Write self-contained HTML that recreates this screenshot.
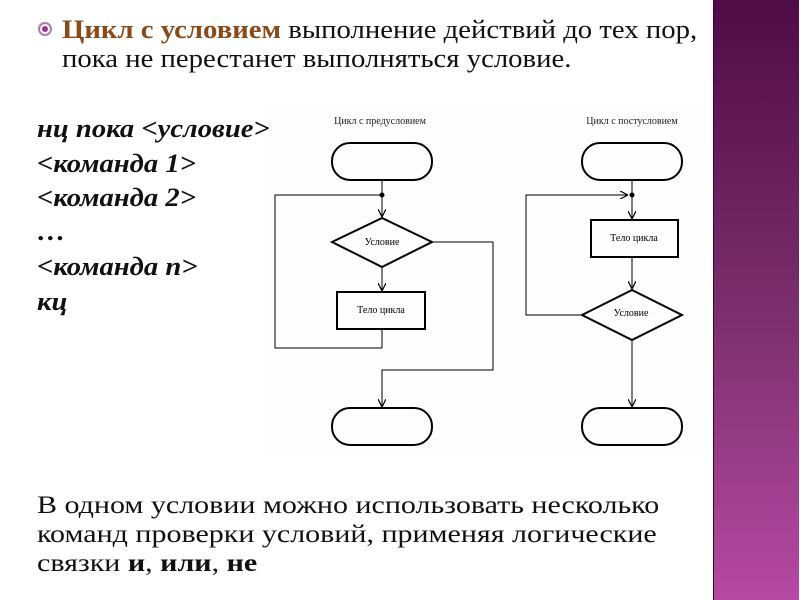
<!DOCTYPE html>
<html><head><meta charset="utf-8"><style>
body{margin:0;width:800px;height:600px;background:#fff;position:relative;overflow:hidden;font-family:"Liberation Serif",serif;}
.side{position:absolute;left:713px;top:0;width:85px;height:600px;background:linear-gradient(#500c47,#7a2d6c 50%,#b54aa2);border-left:1px solid #3a0632;}
.t{position:absolute;white-space:nowrap;color:#111;transform-origin:0 0;}
.code{font-style:italic;font-weight:bold;font-size:26px;left:37px;transform:scaleX(1.1);}
.bot{font-size:25px;left:37px;transform:scaleX(1.2);}
.ti{font-size:26px;left:62px;transform:scaleX(1.105);}
</style></head><body>
<div class="side"></div>
<div class="t" style="left:38px;top:22px;width:14px;height:14px;border:2px solid #b47aa8;border-radius:50%;box-sizing:border-box"></div>
<div class="t" style="left:42px;top:26px;width:6px;height:6px;background:#9a3a8a;border-radius:50%"></div>
<div class="t ti" style="top:15px"><b style="color:#8a4a1a">Цикл с условием</b> выполнение действий до тех пор,</div>
<div class="t ti" style="top:44px">пока не перестанет выполняться условие.</div>
<div class="t code" style="top:114px">нц пока &lt;условие&gt;</div>
<div class="t code" style="top:149px">&lt;команда 1&gt;</div>
<div class="t code" style="top:183px">&lt;команда 2&gt;</div>
<div class="t code" style="top:217px">…</div>
<div class="t code" style="top:252px">&lt;команда n&gt;</div>
<div class="t code" style="top:287px">кц</div>
<div class="t bot" style="top:492px">В одном условии можно использовать несколько</div>
<div class="t bot" style="top:521px">команд проверки условий, применяя логические</div>
<div class="t bot" style="top:550px">связки <b>и</b>, <b>или</b>, <b>не</b></div>
<svg style="position:absolute;left:0;top:0" width="800" height="600" font-family="Liberation Serif" font-size="10">
<defs><marker id="a" viewBox="0 0 10 10" refX="10" refY="5" markerWidth="8" markerHeight="8" orient="auto"><path d="M0,0 L10,5 L0,10" fill="none" stroke="#000" stroke-width="1.5"/></marker></defs>
<rect x="270" y="105" width="430" height="350" fill="#fdfdfd"/>
<g stroke="#000" fill="none" stroke-width="1">
<text x="380" y="124" text-anchor="middle" stroke="none" fill="#222">Цикл с предусловием</text>
<text x="632" y="124" text-anchor="middle" stroke="none" fill="#222">Цикл с постусловием</text>
<rect x="332" y="143" width="100" height="37" rx="18" stroke-width="2"/>
<line x1="382" y1="180" x2="382" y2="217" marker-end="url(#a)"/>
<polyline points="382,348 382,329"/>
<polyline points="382,348 275,348 275,195 382,195"/>
<circle cx="382" cy="195" r="2" fill="#000"/>
<polygon points="332,242 382,218 432,242 382,267" stroke-width="2"/>
<text x="382" y="245" text-anchor="middle" stroke="none" fill="#000">Условие</text>
<line x1="382" y1="267" x2="382" y2="291" marker-end="url(#a)"/>
<rect x="337" y="292" width="88" height="37" stroke-width="2"/>
<text x="381" y="313" text-anchor="middle" stroke="none" fill="#000">Тело цикла</text>
<polyline points="432,242 493,242 493,370 382,370 382,407" marker-end="url(#a)"/>
<rect x="332" y="408" width="100" height="37" rx="18" stroke-width="2"/>
<rect x="582" y="143" width="100" height="37" rx="18" stroke-width="2"/>
<line x1="632" y1="180" x2="632" y2="219" marker-end="url(#a)"/>
<circle cx="632" cy="195" r="2" fill="#000"/>
<polyline points="582,315 526,315 526,195 628,195" marker-end="url(#a)"/>
<rect x="591" y="220" width="87" height="37" stroke-width="2"/>
<text x="634" y="241" text-anchor="middle" stroke="none" fill="#000">Тело цикла</text>
<line x1="632" y1="257" x2="632" y2="289" marker-end="url(#a)"/>
<polygon points="582,315 632,290 682,315 632,340" stroke-width="2"/>
<text x="631" y="316" text-anchor="middle" stroke="none" fill="#000">Условие</text>
<line x1="632" y1="340" x2="632" y2="407" marker-end="url(#a)"/>
<rect x="582" y="408" width="100" height="37" rx="18" stroke-width="2"/>
</g></svg>
</body></html>
